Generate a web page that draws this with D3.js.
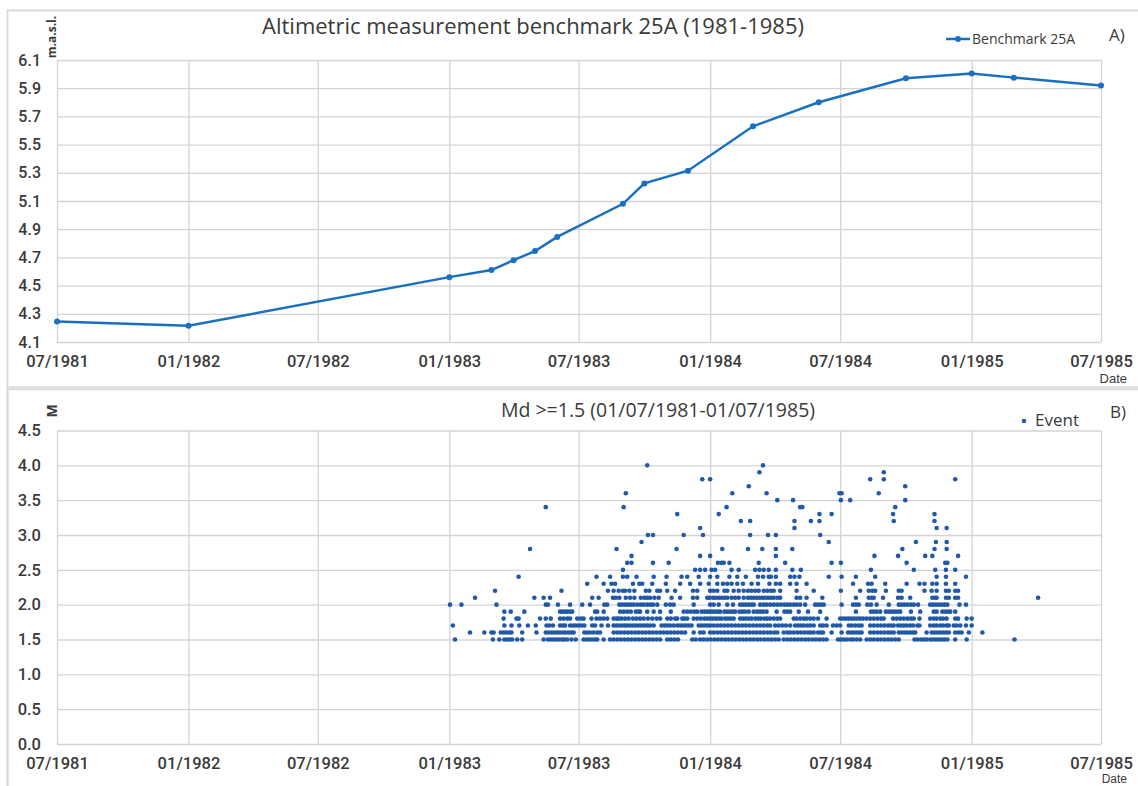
<!DOCTYPE html>
<html>
<head>
<meta charset="utf-8">
<script src="https://cdn.jsdelivr.net/npm/d3@7"></script>
<style>
  body { margin: 0; background: #fff; }
  text { font-family: "Open Sans", sans-serif; fill: #3a3a3a; }
</style>
</head>
<body>
<svg width="1138" height="786"></svg>
<script>
// benchmark 25A levelling (m a.s.l.)
const benchDates = ["1981-07-01", "1982-01-01", "1983-01-01", "1983-03-01", "1983-04-01", "1983-05-01",
  "1983-06-01", "1983-09-01", "1983-10-01", "1983-12-01", "1984-03-01", "1984-06-01", "1984-10-01",
  "1985-01-01", "1985-03-01", "1985-07-01"];
const benchValues = [4.245, 4.215, 4.56, 4.61, 4.68, 4.745, 4.845, 5.08, 5.225, 5.315, 5.63, 5.80, 5.97,
  6.005, 5.975, 5.92];

// shared date ticks
const tickDates = ["1981-07-01", "1982-01-01", "1982-07-01", "1983-01-01", "1983-07-01", "1984-01-01",
  "1984-07-01", "1985-01-01", "1985-07-01"];
const yTicksA = [4.1, 4.3, 4.5, 4.7, 4.9, 5.1, 5.3, 5.5, 5.7, 5.9, 6.1];
const yTicksB = [0, 0.5, 1, 1.5, 2, 2.5, 3, 3.5, 4, 4.5];

// events Md >= 1.5, days since 01/01/1983, one list per magnitude
const m15 = [8, 61, 70, 77, 81, 85, 88, 95, 102, 132, 138, 142, 146, 150, 154, 158, 161, 165, 171, 177,
  188, 192, 196, 200, 204, 207, 216, 225, 230, 235, 240, 245, 250, 255, 260, 265, 270, 275, 280, 285, 290, 295,
  305, 310, 315, 320, 340, 345, 351, 356, 361, 366, 371, 376, 381, 386, 391, 396, 401, 406, 411, 416, 421, 426,
  431, 436, 441, 446, 451, 456, 461, 468, 473, 478, 483, 488, 493, 498, 503, 508, 513, 518, 523, 528,
  544, 548, 552, 556, 561, 565, 570, 575, 584, 589, 594, 599, 604, 609, 614, 619, 624, 629,
  651, 655, 660, 664, 668, 673, 677, 681, 685, 689, 693, 697, 708, 724, 791];
const m16 = [29, 49, 59, 62, 72, 76, 80, 84, 87, 102, 122, 135, 139, 143, 147, 151, 155, 159, 163, 167, 171, 174,
  189, 193, 197, 202, 207, 211, 230, 235, 240, 245, 250, 255, 260, 265, 270, 275, 280, 285, 290, 295, 300, 305,
  310, 315, 320, 325, 330, 342, 351, 356, 365, 370, 375, 380, 385, 390, 395, 400, 405, 410, 415, 420, 425, 430,
  435, 440, 445, 450, 455, 459, 468, 473, 477, 482, 487, 492, 497, 502, 506, 510, 516, 520, 523, 535, 549,
  558, 562, 566, 570, 574, 577, 589, 594, 599, 604, 609, 614, 618, 622, 629, 633, 637, 641, 645, 649, 652,
  668, 675, 679, 683, 687, 691, 695, 699, 708, 713, 717, 727, 746];
const m17 = [5, 77, 87, 98, 110, 121, 136, 140, 145, 155, 159, 162, 169, 173, 177, 181, 185, 189, 200, 204, 213,
  222, 230, 234, 238, 242, 246, 249, 253, 257, 261, 265, 269, 273, 277, 281, 286, 297, 301, 305, 309, 314, 319,
  323, 327, 331, 335, 339, 349, 353, 357, 361, 365, 370, 375, 380, 385, 390, 395, 400, 405, 410, 415, 420, 425,
  430, 435, 440, 445, 449, 456, 461, 466, 471, 477, 484, 488, 492, 496, 501, 505, 510, 519, 523, 528, 537, 542,
  547, 559, 563, 568, 573, 577, 589, 594, 599, 604, 609, 614, 618, 622, 628, 632, 636, 640, 645, 649, 655, 658,
  673, 678, 682, 687, 691, 696, 699, 706, 710, 715, 723, 731];
const m18 = [76, 94, 97, 127, 135, 142, 155, 160, 165, 169, 179, 184, 188, 199, 206, 211, 216, 221, 230, 234, 237,
  241, 246, 251, 257, 262, 267, 272, 278, 284, 290, 295, 305, 310, 316, 319, 326, 329, 333, 342, 347, 352, 357,
  361, 365, 369, 373, 377, 381, 386, 390, 394, 398, 407, 411, 415, 419, 423, 428, 432, 436, 441, 445, 449, 454,
  459, 463, 482, 486, 491, 496, 500, 505, 510, 516, 528, 547, 551, 555, 559, 563, 567, 571, 575, 579, 584, 589,
  594, 599, 604, 608, 621, 626, 631, 636, 641, 646, 650, 658, 673, 678, 682, 687, 691, 696, 708, 712, 724, 731];
const m19 = [77, 86, 105, 155, 158, 162, 165, 169, 172, 204, 207, 216, 239, 244, 249, 254, 261, 265, 267, 277,
  286, 295, 310, 328, 333, 338, 343, 347, 353, 357, 361, 364, 368, 372, 376, 379, 385, 389, 393, 397, 400, 406,
  410, 414, 419, 426, 431, 435, 439, 444, 458, 469, 473, 477, 489, 502, 519, 569, 590, 594, 598, 603, 611, 615,
  619, 623, 627, 631, 646, 659, 678, 682, 690, 694, 698, 701, 708];
const m20 = [1, 17, 66, 135, 138, 152, 169, 186, 197, 217, 221, 238, 242, 246, 250, 254, 258, 263, 268, 272, 277,
  281, 285, 291, 303, 309, 314, 342, 365, 370, 377, 389, 397, 407, 411, 415, 419, 423, 426, 435, 440, 444, 449,
  454, 459, 464, 469, 473, 477, 482, 486, 491, 498, 512, 516, 520, 524, 549, 565, 569, 573, 585, 590, 598, 615,
  629, 633, 637, 641, 646, 650, 656, 673, 677, 681, 685, 689, 693, 697, 714, 723];
const m21 = [36, 119, 132, 141, 200, 209, 229, 233, 238, 247, 253, 259, 268, 273, 277, 281, 287, 293, 311, 323,
  341, 347, 361, 364, 369, 373, 377, 381, 385, 389, 395, 400, 405, 412, 418, 422, 426, 430, 434, 438, 442, 446,
  450, 454, 459, 463, 486, 491, 500, 522, 569, 587, 591, 594, 607, 628, 633, 645, 676, 680, 682, 695, 699, 708,
  712, 824];
const m22 = [64, 157, 222, 230, 237, 243, 246, 252, 259, 275, 280, 291, 295, 305, 316, 341, 347, 365, 370, 375,
  385, 389, 398, 405, 412, 418, 423, 428, 433, 440, 445, 450, 454, 463, 486, 510, 548, 575, 587, 592, 596, 611,
  629, 633, 665, 675, 682, 695, 699, 708, 712];
const m23 = [193, 216, 227, 232, 257, 266, 270, 284, 303, 323, 337, 351, 363, 375, 383, 389, 395, 403, 411, 423,
  432, 448, 457, 463, 477, 486, 500, 565, 586, 591, 610, 640, 658, 665, 676, 682, 695, 708];
const m24 = [97, 206, 225, 243, 249, 262, 286, 304, 325, 333, 349, 365, 375, 392, 403, 415, 432, 439, 447, 450,
  457, 477, 483, 490, 531, 549, 569, 596, 682, 695, 723];
const m25 = [243, 344, 351, 358, 367, 372, 395, 405, 428, 434, 440, 447, 457, 480, 492, 590, 650, 680, 695, 708];
const m26 = [249, 255, 285, 307, 376, 381, 384, 392, 433, 470, 535, 548, 640, 694, 697];
const m27 = [255, 351, 365, 457, 595, 628, 666, 676, 712];
const m28 = [113, 234, 318, 382, 418, 438, 457, 480, 634, 679, 696];
const m29 = [269, 531, 653, 681, 696];
const m30 = [278, 285, 328, 355, 421, 446, 457, 519];
const m31 = [351, 483, 682, 696];
const m32 = [408, 421, 483, 506, 518, 622, 679];
const m33 = [319, 377, 518, 535, 621, 679];
const m34 = [135, 244, 388, 491, 494, 624];
const m35 = [459, 481, 548, 561, 638];
const m36 = [247, 396, 444, 546, 549, 601];
const m37 = [419, 638];
const m38 = [354, 365, 589, 608, 708];
const m39 = [434, 608];
const m40 = [277, 439];

const magnitudes = [1.5, 1.6, 1.7, 1.8, 1.9, 2.0, 2.1, 2.2, 2.3, 2.4, 2.5, 2.6, 2.7, 2.8, 2.9, 3.0, 3.1, 3.2,
  3.3, 3.4, 3.5, 3.6, 3.7, 3.8, 3.9, 4.0];
const dayLists = [m15, m16, m17, m18, m19, m20, m21, m22, m23, m24, m25, m26, m27, m28, m29, m30, m31, m32,
  m33, m34, m35, m36, m37, m38, m39, m40];

const parse = d3.timeParse("%Y-%m-%d");
const fmt = d3.timeFormat("%m/%Y");
const eventStart = parse("1983-01-01");

const bench = benchDates.map((d, i) => ({ date: parse(d), value: benchValues[i] }));
const events = [];
magnitudes.forEach((m, i) => {
  dayLists[i].forEach(day => events.push({ date: d3.timeDay.offset(eventStart, day), mag: m }));
});

const svg = d3.select("svg");
const gridColor = "#d4d4d4";
const lineColor = "#1a70c0";
const dotColor = "#2159a8";
const labelColor = "#3a3a3a";

// panel frames
svg.append("path")
  .attr("d", "M7.5,1000 V10.5 H1200 M7.5,387.5 H1200")
  .attr("fill", "none").attr("stroke", "#d9d9d9").attr("stroke-width", 2);
svg.append("path")
  .attr("d", "M7.5,790 V389.5 H1200")
  .attr("fill", "none").attr("stroke", "#d9d9d9").attr("stroke-width", 1.5);

const x = d3.scaleTime()
  .domain([parse("1981-07-01"), parse("1985-07-01")])
  .range([57, 1101]);

// tick labels in Roboto (tighter line box than Open Sans); style() so the css rule doesn't win
function styleAxis(g, size) {
  g.select(".domain").remove();
  g.selectAll("line").attr("stroke", gridColor).attr("stroke-width", 1.3);
  g.selectAll("text").attr("font-size", size)
    .style("fill", labelColor)
    .style("font-family", "Roboto")
    .style("font-weight", 500);
}

//---------------- panel A
const yA = d3.scaleLinear().domain([4.1, 6.1]).range([342, 60]);
const gA = svg.append("g");

gA.append("g")
  .attr("transform", "translate(0,342)")
  .call(d3.axisBottom(x).tickValues(tickDates.map(parse)).tickSize(-282).tickFormat(fmt).tickPadding(13))
  .call(g => styleAxis(g, 16.5));

gA.append("g")
  .attr("transform", "translate(57,0)")
  .call(d3.axisLeft(yA).tickValues(yTicksA).tickSize(-1044).tickFormat(d3.format(".1f")).tickPadding(16))
  .call(g => styleAxis(g, 16));

gA.append("path")
  .datum(bench)
  .attr("fill", "none")
  .attr("stroke", lineColor)
  .attr("stroke-width", 2.5)
  .attr("d", d3.line().x(d => x(d.date)).y(d => yA(d.value)));

gA.selectAll(".pt")
  .data(bench)
  .join("circle")
  .attr("cx", d => x(d.date))
  .attr("cy", d => yA(d.value))
  .attr("r", 3)
  .attr("fill", lineColor);

gA.append("text")
  .attr("x", 533).attr("y", 34)
  .attr("text-anchor", "middle")
  .attr("font-size", 22)
  .text("Altimetric measurement benchmark 25A (1981-1985)");

gA.append("text")
  .attr("transform", "translate(56,37) rotate(-90)")
  .attr("text-anchor", "middle")
  .attr("font-size", 12).attr("font-weight", "bold")
  .text("m.a.s.l.");

gA.append("text")
  .attr("x", 1127).attr("y", 382.5)
  .attr("text-anchor", "end")
  .style("font-family", "Liberation Sans")
  .attr("font-size", 13)
  .text("Date");

// legend A
gA.append("line").attr("x1", 946).attr("x2", 970).attr("y1", 39).attr("y2", 39)
  .attr("stroke", lineColor).attr("stroke-width", 2.5);
gA.append("circle").attr("cx", 958).attr("cy", 39).attr("r", 3).attr("fill", lineColor);
gA.append("text").attr("x", 972).attr("y", 44).attr("font-size", 14).text("Benchmark 25A");
gA.append("text").attr("x", 1109).attr("y", 41).attr("font-size", 17).text("A)");

//---------------- panel B
const yB = d3.scaleLinear().domain([0, 4.5]).range([744, 430.5]);
const gB = svg.append("g");

gB.append("g")
  .attr("transform", "translate(0,744)")
  .call(d3.axisBottom(x).tickValues(tickDates.map(parse)).tickSize(-313.5).tickFormat(fmt).tickPadding(13))
  .call(g => styleAxis(g, 16.5));

gB.append("g")
  .attr("transform", "translate(57,0)")
  .call(d3.axisLeft(yB).tickValues(yTicksB).tickSize(-1044).tickFormat(d3.format(".1f")).tickPadding(16))
  .call(g => styleAxis(g, 16.5));

gB.selectAll(".ev")
  .data(events)
  .join("circle")
  .attr("cx", d => x(d.date))
  .attr("cy", d => yB(d.mag))
  .attr("r", 2.3)
  .attr("fill", dotColor);

gB.append("text")
  .attr("x", 658).attr("y", 417)
  .attr("text-anchor", "middle")
  .attr("font-size", 19.5)
  .text("Md >=1.5 (01/07/1981-01/07/1985)");

gB.append("text")
  .attr("transform", "translate(57,411) rotate(-90)")
  .attr("text-anchor", "middle")
  .attr("font-size", 14).attr("font-weight", "bold")
  .text("M");

gB.append("text")
  .attr("x", 1127).attr("y", 783.3)
  .attr("text-anchor", "end")
  .style("font-family", "Liberation Sans")
  .attr("font-size", 12)
  .text("Date");

// legend B
gB.append("circle").attr("cx", 1024).attr("cy", 421).attr("r", 2.3).attr("fill", dotColor);
gB.append("text").attr("x", 1035).attr("y", 426).attr("font-size", 17).text("Event");
gB.append("text").attr("x", 1110).attr("y", 418).attr("font-size", 17).text("B)");
</script>
</body>
</html>
